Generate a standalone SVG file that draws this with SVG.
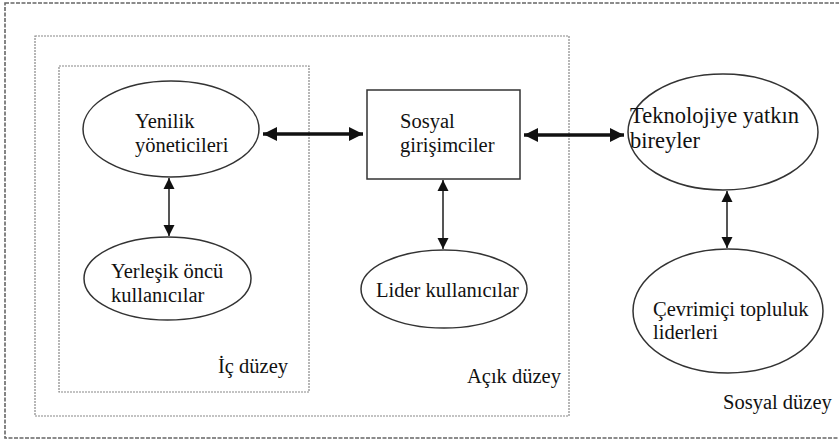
<svg xmlns="http://www.w3.org/2000/svg" width="839" height="444" viewBox="0 0 839 444">
<style>
.t{font-family:'Liberation Serif','Tinos','Times New Roman','DejaVu Serif',serif;font-size:20.5px;fill:#111}
.big{font-size:22.5px}
.nd{fill:#fff;stroke:#333;stroke-width:1.5}
.box{fill:none}
.thick{stroke:#111;stroke-width:3.5;fill:none}
.thin{stroke:#555;stroke-width:2;fill:none}
</style>
<defs>
<marker id="ah" viewBox="0 0 10 10" refX="10" refY="5" markerWidth="4.2" markerHeight="4" orient="auto-start-reverse" markerUnits="strokeWidth"><path d="M0,0 L10,5 L0,10 Z" fill="#111"/></marker>
<marker id="ah2" viewBox="0 0 10 10" refX="10" refY="5" markerWidth="5.5" markerHeight="6" orient="auto-start-reverse" markerUnits="strokeWidth"><path d="M0,0 L10,5 L0,10 Z" fill="#111"/></marker>
</defs>
<rect width="839" height="444" fill="#fff"/>
<g id="levels">
<rect id="sosyal-duzey" class="box" x="5" y="3" width="845" height="435" stroke="#666" stroke-width="1.6" stroke-dasharray="4 1.5"/>
<rect id="acik-duzey" class="box" x="35" y="36" width="534" height="380" stroke="#888" stroke-width="1.2" stroke-dasharray="2 1"/>
<rect id="ic-duzey" class="box" x="59" y="66" width="250" height="326" stroke="#888" stroke-width="1.2" stroke-dasharray="2 1"/>
<text class="t" x="218" y="373">İç düzey</text>
<text class="t" x="467" y="383">Açık düzey</text>
<text class="t" x="723" y="409">Sosyal düzey</text>
</g>
<g id="connectors">
<line class="thick" x1="263" y1="134" x2="363" y2="134" marker-start="url(#ah)" marker-end="url(#ah)"/>
<line class="thick" x1="524" y1="135" x2="624" y2="135" marker-start="url(#ah)" marker-end="url(#ah)"/>
<line class="thin" x1="169" y1="178" x2="169" y2="236" marker-start="url(#ah2)" marker-end="url(#ah2)"/>
<line class="thin" x1="443" y1="180" x2="443" y2="249" marker-start="url(#ah2)" marker-end="url(#ah2)"/>
<line class="thin" x1="727" y1="191" x2="727" y2="248" marker-start="url(#ah2)" marker-end="url(#ah2)"/>
</g>
<g id="yenilik">
<ellipse class="nd" cx="171" cy="129" rx="88" ry="48"/>
<text class="t" x="135" y="128">Yenilik</text>
<text class="t" x="135" y="152">yöneticileri</text>
</g>
<g id="sosyal-girisimciler">
<rect class="nd" x="367" y="90" width="153" height="89"/>
<text class="t" x="400" y="128">Sosyal</text>
<text class="t" x="400" y="152">girişimciler</text>
</g>
<g id="teknoloji">
<ellipse class="nd" cx="723" cy="132" rx="95" ry="58"/>
<text class="t big" x="630" y="123">Teknolojiye yatkın</text>
<text class="t big" x="630" y="148">bireyler</text>
</g>
<g id="yerlesik">
<ellipse class="nd" cx="167.5" cy="278.5" rx="83.5" ry="41.5"/>
<text class="t" x="111" y="278">Yerleşik öncü</text>
<text class="t" x="111" y="302">kullanıcılar</text>
</g>
<g id="lider">
<ellipse class="nd" cx="444" cy="289" rx="83" ry="39"/>
<text class="t" x="376" y="297">Lider kullanıcılar</text>
</g>
<g id="cevrimici">
<ellipse class="nd" cx="728" cy="311" rx="95" ry="62"/>
<text class="t" x="653" y="316">Çevrimiçi topluluk</text>
<text class="t" x="653" y="339">liderleri</text>
</g>
</svg>
